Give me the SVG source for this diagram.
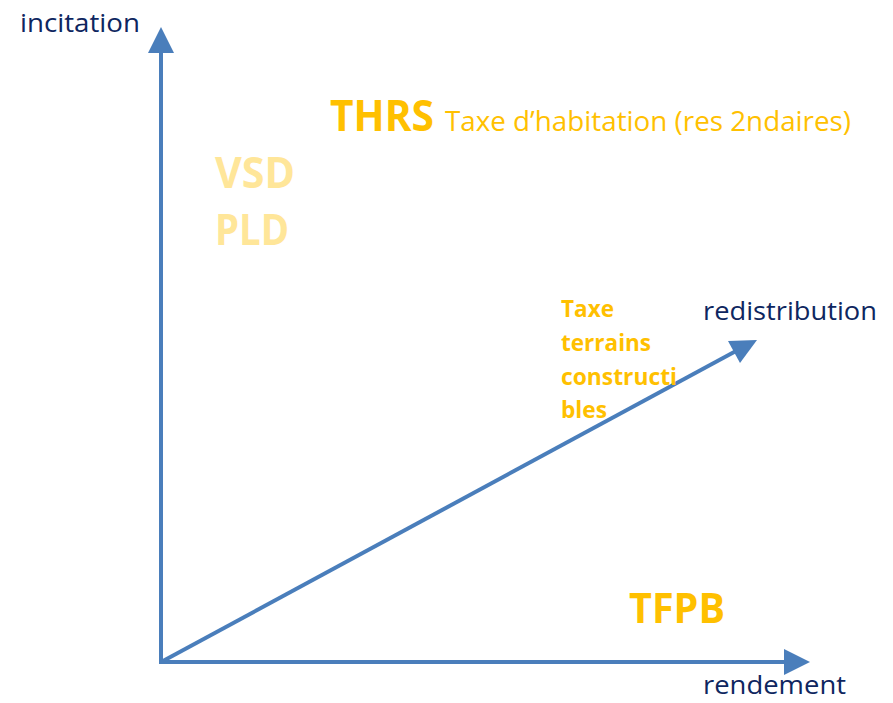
<svg xmlns="http://www.w3.org/2000/svg" width="893" height="703" viewBox="0 0 893 703">
<style>
.ax{stroke:#4A7EBB;stroke-width:4;fill:none}
.ah{fill:#4A7EBB}
.lbl{font-family:"Open Sans","Noto Sans",sans-serif;font-size:26px;fill:#0E2660}
.b{font-family:"Open Sans","Noto Sans",sans-serif;font-weight:bold;fill:#FFC000}
.r{font-family:"Open Sans","Noto Sans",sans-serif;fill:#FFC000}
.lt{fill:#FFE699}
</style>
<rect width="893" height="703" fill="#FFFFFF"/>
<g id="connectors">
  <line class="ax" x1="161" y1="664" x2="161" y2="50"/>
  <polygon class="ah" points="161,27 148,53 174,53"/>
  <line class="ax" x1="159" y1="662" x2="787" y2="662"/>
  <polygon class="ah" points="810,662 784,649 784,675"/>
  <line class="ax" x1="163" y1="661" x2="736" y2="351"/>
  <polygon class="ah" points="757,340 728,341 740,363"/>
</g>
<g id="axis-incitation"><text class="lbl" x="20" y="32" textLength="120" lengthAdjust="spacingAndGlyphs">incitation</text></g>
<g id="axis-redistribution"><text class="lbl" x="703" y="320" textLength="174" lengthAdjust="spacingAndGlyphs">redistribution</text></g>
<g id="axis-rendement"><text class="lbl" x="703" y="694" textLength="143" lengthAdjust="spacingAndGlyphs">rendement</text></g>
<g id="thrs">
  <text class="b" x="330" y="131" font-size="43" textLength="104" lengthAdjust="spacingAndGlyphs">THRS</text>
  <text class="r" x="445" y="131" font-size="28" textLength="406" lengthAdjust="spacingAndGlyphs">Taxe d’habitation (res 2ndaires)</text>
</g>
<g id="vsd"><text class="b lt" x="215" y="188" font-size="43" textLength="80" lengthAdjust="spacingAndGlyphs">VSD</text></g>
<g id="pld"><text class="b lt" x="215" y="245" font-size="43" textLength="74" lengthAdjust="spacingAndGlyphs">PLD</text></g>
<g id="ttc">
  <text class="b" x="561" y="317" font-size="23" textLength="53" lengthAdjust="spacingAndGlyphs">Taxe</text>
  <text class="b" x="561" y="351" font-size="23" textLength="90" lengthAdjust="spacingAndGlyphs">terrains</text>
  <text class="b" x="561" y="385" font-size="23" textLength="116" lengthAdjust="spacingAndGlyphs">constructi</text>
  <text class="b" x="561" y="418" font-size="23" textLength="46" lengthAdjust="spacingAndGlyphs">bles</text>
</g>
<g id="tfpb"><text class="b" x="629" y="623" font-size="42" textLength="96" lengthAdjust="spacingAndGlyphs">TFPB</text></g>
</svg>
